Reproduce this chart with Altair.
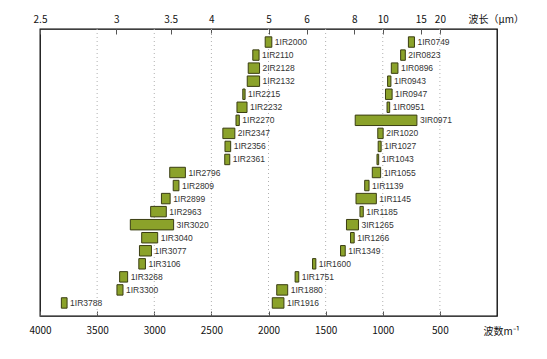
import altair as alt
import pandas as pd

# Right group (lower wavenumbers), rows 1..21 from top
labels_a = ["1IR0749", "2IR0823", "1IR0896", "1IR0943", "1IR0947", "1IR0951", "3IR0971",
            "2IR1020", "1IR1027", "1IR1043", "1IR1055", "1IR1139", "1IR1145", "1IR1185",
            "3IR1265", "1IR1266", "1IR1349", "1IR1600", "1IR1751", "1IR1880", "1IR1916"]
centers_a = [749, 823, 896, 943, 947, 951, 971, 1020, 1027, 1043, 1055, 1139, 1145, 1185,
             1265, 1266, 1349, 1600, 1751, 1880, 1916]
widths_a = [53, 41, 58, 29, 58, 23, 540, 47, 26, 15, 73, 38, 178, 29,
            105, 32, 41, 29, 32, 96, 102]

# Left group (higher wavenumbers), rows 1..21 from top
labels_b = ["1IR2000", "1IR2110", "2IR2128", "1IR2132", "1IR2215", "1IR2232", "1IR2270",
            "2IR2347", "1IR2356", "1IR2361", "1IR2796", "1IR2809", "1IR2899", "1IR2963",
            "3IR3020", "1IR3040", "1IR3077", "1IR3106", "1IR3268", "1IR3300", "1IR3788"]
centers_b = [2000, 2110, 2128, 2132, 2215, 2232, 2270, 2347, 2356, 2361, 2796, 2809, 2899, 2963,
             3020, 3040, 3077, 3106, 3268, 3300, 3788]
widths_b = [58, 55, 99, 108, 20, 88, 29, 105, 50, 44, 137, 50, 76, 137,
            379, 140, 105, 58, 70, 53, 50]

wavenumber_ticks = [4000, 3500, 3000, 2500, 2000, 1500, 1000, 500]
grid_values = [3500, 3000, 2500, 2000, 1500, 1000, 500]
wavelength_ticks = [2.5, 3, 3.5, 4, 5, 6, 8, 10, 15, 20]

rows = []
for labs, cens, wids in [(labels_a, centers_a, widths_a), (labels_b, centers_b, widths_b)]:
    for i, (l, c, w) in enumerate(zip(labs, cens, wids)):
        rows.append({"label": l, "center": c, "width": w, "row": i + 1,
                     "hi": c + w / 2, "lo": c - w / 2,
                     "y0": i + 1 - 0.4, "y1": i + 1 + 0.4})
df = pd.DataFrame(rows)

FONT = "Noto Sans CJK SC"
xscale = alt.Scale(domain=[4000, 0], nice=False, zero=False)
yscale = alt.Scale(domain=[0, 22], reverse=True, nice=False, zero=False)

grid = alt.Chart(pd.DataFrame({"g": grid_values})).mark_rule(
    color="#b0b0b0", strokeDash=[1, 3], strokeWidth=1
).encode(x=alt.X("g:Q", scale=xscale, axis=None))

bottom_axis = alt.Axis(
    values=wavenumber_ticks, orient="bottom", offset=-5, domain=False, grid=False,
    tickSize=5, tickColor="#555", labelPadding=9, labelFont=FONT, labelFontSize=10,
    labelColor="#111", labelFlush=False, format="d",
    title="波数m⁻¹", titleFont=FONT, titleFontSize=10, titleFontWeight="normal",
    titleColor="#111", titleX=443, titleY=15, titleAlign="left", titleBaseline="top",
)

bars = alt.Chart(df).mark_rect(
    fill="#8ba22a", stroke="#3a3d12", strokeWidth=1
).encode(
    x=alt.X("hi:Q", scale=xscale, axis=bottom_axis),
    x2="lo:Q",
    y=alt.Y("y0:Q", scale=yscale, axis=None),
    y2="y1:Q",
)

texts = alt.Chart(df).mark_text(
    align="left", baseline="middle", dx=3, fontSize=8.5, font="Liberation Sans", color="#333"
).encode(
    x=alt.X("lo:Q", scale=xscale, axis=None),
    y=alt.Y("row:Q", scale=yscale, axis=None),
    text="label:N",
)

wl_df = pd.DataFrame({"wl": wavelength_ticks})
wl_df["wn"] = 10000 / wl_df["wl"]
top_axis = alt.Axis(
    values=list(wl_df["wn"]), orient="top", offset=-5, domain=False, grid=False,
    tickSize=5, tickColor="#555", labelPadding=5, labelFont=FONT, labelFontSize=10,
    labelColor="#111", labelFlush=False,
    labelExpr="format(10000 / datum.value, '~g')",
    title="波长（μm）", titleFont=FONT, titleFontSize=10, titleFontWeight="normal",
    titleColor="#111", titleX=428, titleY=-10, titleAlign="left", titleBaseline="bottom",
)
top = alt.Chart(wl_df).mark_point(opacity=0).encode(
    x=alt.X("wn:Q", scale=xscale, axis=top_axis),
)

chart = alt.layer(grid, bars, texts, top).resolve_scale(x="independent").properties(
    width=457, height=287,
    autosize=alt.AutoSizeParams(type="none"),
    padding={"left": 32, "top": 21, "right": 42, "bottom": 35},
).configure_view(stroke="black", strokeWidth=1.3)

chart.save("out.html", embed_options={"renderer": "svg", "actions": False})
